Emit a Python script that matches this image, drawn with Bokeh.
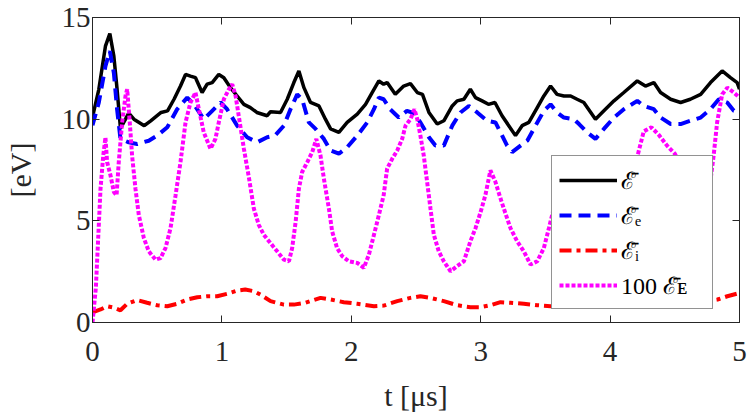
from bokeh.plotting import figure
from bokeh.models import FixedTicker, LinearAxis, Range1d, CustomJSTickFormatter
from bokeh.embed import file_html
from bokeh.resources import INLINE

# total mean energy
t_tot = [0.0, 0.049, 0.10, 0.134, 0.165, 0.19, 0.216, 0.255, 0.28, 0.32, 0.40, 0.45, 0.53, 0.58, 0.63,
         0.68, 0.719, 0.757, 0.796, 0.847, 0.886, 0.925, 0.976, 1.015, 1.066, 1.118, 1.17, 1.22, 1.27,
         1.35, 1.376, 1.453, 1.505, 1.556, 1.595, 1.634, 1.685, 1.75, 1.80, 1.84, 1.904, 1.968, 2.046,
         2.11, 2.161, 2.213, 2.25, 2.277, 2.34, 2.405, 2.457, 2.51, 2.55, 2.60, 2.664, 2.715, 2.78,
         2.818, 2.87, 2.92, 2.96, 3.011, 3.06, 3.11, 3.165, 3.217, 3.269, 3.32, 3.372, 3.437, 3.488,
         3.54, 3.59, 3.643, 3.695, 3.745, 3.797, 3.887, 3.952, 4.03, 4.106, 4.21, 4.273, 4.338, 4.39,
         4.468, 4.545, 4.62, 4.70, 4.776, 4.866, 4.93, 4.982, 5.0]
e_tot = [10.1, 11.47, 13.59, 14.21, 13.1, 11.47, 9.55, 10.0, 10.3, 10.0, 9.68, 9.92, 10.33, 10.41, 10.98,
         11.63, 12.2, 12.12, 12.04, 11.31, 11.72, 11.8, 12.2, 12.04, 11.55, 11.14, 10.73, 10.57, 10.33,
         10.17, 10.37, 10.33, 10.98, 11.8, 12.37, 11.55, 10.82, 10.65, 10.0, 9.52, 9.35, 9.84, 10.25,
         10.73, 11.31, 11.88, 11.72, 11.8, 11.22, 11.63, 11.75, 11.31, 11.22, 10.33, 9.76, 9.92, 10.65,
         10.9, 10.98, 11.47, 11.06, 10.9, 10.73, 10.82, 10.17, 9.68, 9.19, 9.68, 9.84, 10.57, 11.14,
         11.63, 11.22, 11.14, 11.14, 10.98, 10.82, 10.0, 10.41, 10.9, 11.31, 11.88, 11.63, 11.8, 11.31,
         10.98, 10.82, 10.98, 11.22, 11.8, 12.37, 12.04, 11.8, 11.47]

# electrons
t_el = [0.0, 0.049, 0.10, 0.134, 0.165, 0.19, 0.216, 0.28, 0.345, 0.435, 0.50, 0.578, 0.654, 0.732, 0.783,
        0.86, 0.925, 0.99, 1.04, 1.118, 1.195, 1.272, 1.35, 1.41, 1.479, 1.53, 1.582, 1.62, 1.672, 1.724,
        1.788, 1.84, 1.904, 1.968, 2.046, 2.123, 2.175, 2.213, 2.25, 2.30, 2.367, 2.43, 2.483, 2.534, 2.60,
        2.65, 2.715, 2.78, 2.844, 2.908, 2.973, 3.05, 3.114, 3.153, 3.204, 3.243, 3.308, 3.36, 3.424, 3.488,
        3.54, 3.59, 3.643, 3.72, 3.76, 3.823, 3.887, 3.952, 4.03, 4.106, 4.21, 4.26, 4.338, 4.39, 4.468,
        4.545, 4.62, 4.70, 4.776, 4.84, 4.905, 4.956, 5.0]
e_el = [9.7, 10.82, 12.61, 13.35, 12.28, 10.49, 9.03, 8.86, 8.78, 8.94, 9.19, 9.6, 10.49, 11.06, 10.73,
        10.0, 10.41, 10.82, 10.49, 9.68, 9.11, 8.86, 9.11, 9.19, 9.68, 10.49, 11.22, 10.98, 9.84, 9.52,
        9.03, 8.46, 8.3, 8.62, 9.19, 9.84, 10.49, 11.06, 10.98, 10.49, 10.08, 10.41, 10.3, 9.84, 9.11,
        8.7, 8.7, 9.68, 10.33, 10.65, 10.33, 9.92, 9.84, 9.35, 8.7, 8.38, 8.7, 8.94, 9.68, 10.41,
        10.73, 10.33, 10.08, 10.0, 9.76, 9.35, 9.03, 9.52, 10.08, 10.49, 10.9, 10.65, 10.49, 10.08, 9.76,
        9.76, 9.92, 10.08, 10.49, 10.98, 10.82, 10.41, 10.33]

# ions
t_ion = [0.0, 0.062, 0.113, 0.165, 0.216, 0.268, 0.345, 0.422, 0.50, 0.578, 0.654, 0.732, 0.81, 0.886,
         0.963, 1.04, 1.118, 1.18, 1.247, 1.298, 1.376, 1.479, 1.556, 1.646, 1.762, 1.84, 1.942, 2.046,
         2.175, 2.25, 2.355, 2.457, 2.534, 2.612, 2.715, 2.818, 2.92, 2.998, 3.075, 3.153, 3.23, 3.333,
         3.437, 3.54, 3.7, 3.9, 4.1, 4.3, 4.5, 4.7, 4.83, 4.906, 5.0]
e_ion = [0.5, 0.64, 0.8, 0.73, 0.6, 0.92, 1.1, 0.97, 0.85, 0.8, 0.92, 1.13, 1.24, 1.29, 1.29, 1.41, 1.57,
         1.62, 1.54, 1.37, 1.05, 0.88, 0.88, 0.97, 1.21, 1.13, 1.0, 0.92, 0.8, 0.83, 1.05, 1.21, 1.29,
         1.21, 1.05, 0.85, 0.75, 0.75, 0.85, 1.0, 0.97, 0.92, 0.85, 0.8, 0.85, 0.95, 0.9, 0.85, 0.9, 1.0,
         1.13, 1.29, 1.45]

# field energy (x100)
t_fld = [0.0, 0.026, 0.044, 0.062, 0.083, 0.10, 0.113, 0.139, 0.165, 0.186,
         0.203, 0.229, 0.255, 0.268, 0.288, 0.306, 0.332, 0.358, 0.397, 0.435,
         0.487, 0.526, 0.564, 0.603, 0.642, 0.68, 0.719, 0.757, 0.796, 0.822,
         0.86, 0.912, 0.95, 0.976, 1.015, 1.054, 1.08, 1.106, 1.13, 1.17,
         1.21, 1.247, 1.285, 1.324, 1.376, 1.427, 1.479, 1.518, 1.543, 1.57,
         1.595, 1.62, 1.66, 1.698, 1.73, 1.762, 1.788, 1.827, 1.852, 1.89,
         1.93, 1.981, 2.046, 2.097, 2.136, 2.175, 2.213, 2.25, 2.277, 2.316,
         2.355, 2.393, 2.419, 2.457, 2.488, 2.51, 2.534, 2.56, 2.586, 2.612,
         2.638, 2.676, 2.715, 2.767, 2.818, 2.87, 2.92, 2.96, 3.0, 3.036,
         3.075, 3.114, 3.153, 3.191, 3.23, 3.282, 3.333, 3.385, 3.437, 3.488,
         3.527, 3.58, 3.65, 3.72, 3.8, 3.88, 3.96, 4.04, 4.12, 4.2,
         4.26, 4.32, 4.38, 4.44, 4.5, 4.56, 4.64, 4.72, 4.78, 4.80,
         4.827, 4.866, 4.906, 4.956, 5.0]
e_fld = [0.0, 1.71, 4.15, 6.58, 8.21, 9.1, 7.89, 7.24, 6.42, 6.26,
         7.89, 9.84, 11.14, 11.47, 9.84, 8.21, 6.58, 5.28, 4.15, 3.5,
         3.09, 3.17, 3.66, 4.64, 6.26, 7.89, 9.84, 10.82, 11.31, 10.49,
         9.35, 8.54, 9.03, 9.84, 10.98, 11.47, 11.72, 11.14, 10.17, 8.54,
         7.08, 5.6, 4.8, 4.31, 3.9, 3.5, 3.09, 3.01, 3.66, 4.96,
         6.58, 7.4, 7.89, 8.38, 9.03, 8.21, 7.08, 5.6, 4.48, 3.66,
         3.26, 3.01, 2.93, 2.69, 3.34, 4.31, 5.28, 6.26, 7.57, 8.05,
         8.46, 9.03, 9.68, 10.0, 10.49, 10.0, 9.19, 8.21, 6.91, 5.6,
         4.31, 3.5, 3.01, 2.52, 2.77, 3.01, 3.99, 4.64, 5.45, 6.26,
         7.48, 6.91, 6.1, 5.37, 4.64, 3.99, 3.5, 2.85, 3.01, 3.66,
         4.64, 6.0, 7.4, 7.9, 7.0, 5.6, 4.6, 4.8, 6.5, 7.9,
         9.4, 9.6, 9.2, 8.7, 8.3, 7.6, 6.2, 5.6, 7.2, 8.2,
         9.84, 11.22, 11.55, 11.31, 11.06]

x_ticks = [0, 1, 2, 3, 4, 5]
y_ticks = [0, 5, 10, 15]

axis_col = "#262626"
serif = "Liberation Serif"

p = figure(width=747, height=418, output_backend="svg", toolbar_location=None,
           x_range=Range1d(0, 5), y_range=Range1d(0, 15),
           min_border_left=92, min_border_right=8, min_border_top=17, min_border_bottom=96)
p.grid.visible = False
p.outline_line_color = axis_col
p.background_fill_color = "white"
p.border_fill_color = "white"

p.line(t_tot, e_tot, color="black", line_width=3.5, legend_label="ℰ̄")
p.line(t_el, e_el, color="#0000ff", line_width=4, line_dash="12 7", legend_label="ℰ̄ₑ")
p.line(t_ion, e_ion, color="#ff0000", line_width=4, line_dash="12 5 4 5", legend_label="ℰ̄ᵢ")
p.line(t_fld, e_fld, color="#ff00ff", line_width=4, line_dash="4 2", legend_label="100 ℰ̄ᴇ")

def style_axis(ax):
    ax.axis_line_color = axis_col
    ax.major_tick_line_color = axis_col
    ax.major_tick_in = 7
    ax.major_tick_out = 0
    ax.minor_tick_line_color = None
    ax.major_label_text_font = serif
    ax.major_label_text_font_size = "29px"
    ax.major_label_text_color = axis_col
    ax.axis_label_text_font = serif
    ax.axis_label_text_font_size = "30px"
    ax.axis_label_text_font_style = "normal"
    ax.axis_label_text_color = axis_col

p.xaxis.ticker = FixedTicker(ticks=x_ticks)
p.yaxis.ticker = FixedTicker(ticks=y_ticks)
p.xaxis.axis_label = "t [μs]"
p.yaxis.axis_label = "[eV]"
style_axis(p.xaxis[0])
style_axis(p.yaxis[0])
p.xaxis.major_label_standoff = 19
p.xaxis.axis_label_standoff = 15
p.yaxis.major_label_standoff = 2
p.yaxis.axis_label_standoff = 22

blank = CustomJSTickFormatter(code="return ''")
top = LinearAxis(ticker=FixedTicker(ticks=x_ticks), formatter=blank)
right = LinearAxis(ticker=FixedTicker(ticks=y_ticks), formatter=blank)
style_axis(top)
style_axis(right)
p.add_layout(top, "above")
p.add_layout(right, "right")

leg = p.legend[0]
leg.location = (459, 13)
leg.margin = 0
leg.padding = 7
leg.spacing = 2
leg.glyph_width = 58
leg.glyph_height = 30
leg.label_height = 30
leg.label_width = 84
leg.label_standoff = 4
leg.label_text_font = serif
leg.label_text_font_size = "24px"
leg.label_text_color = "black"
leg.border_line_color = axis_col
leg.border_line_width = 1
leg.background_fill_alpha = 1.0

open("out.html", "w").write(file_html(p, INLINE))
